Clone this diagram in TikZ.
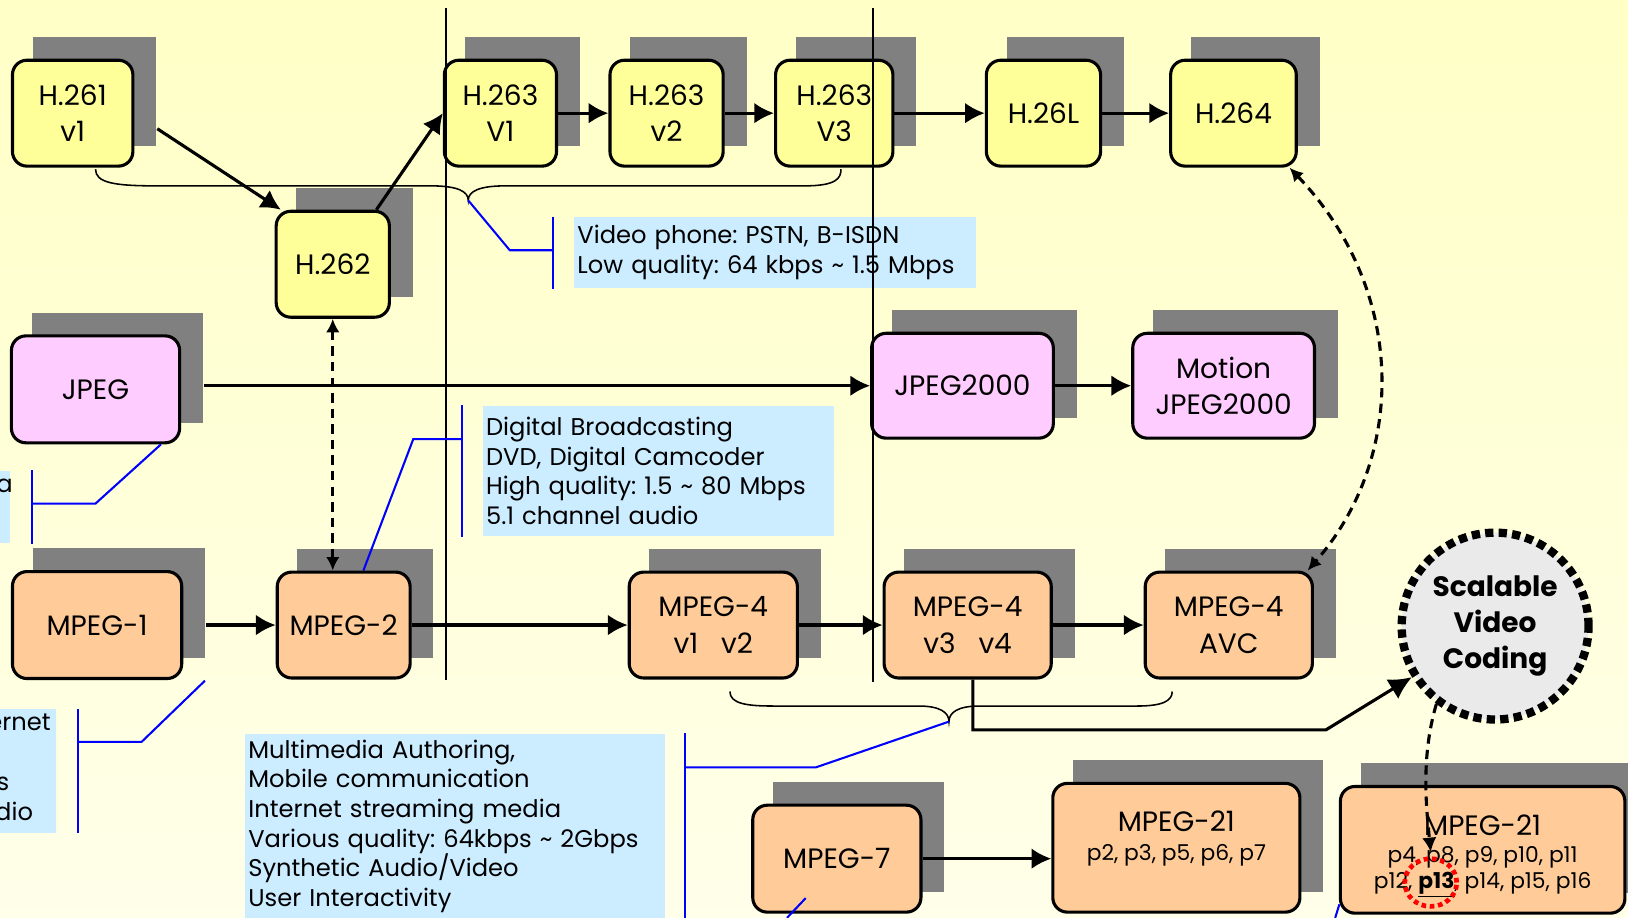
\documentclass[tikz,border=0pt]{standalone}
\usepackage{fontspec}
\setmainfont{Poppins}
\usetikzlibrary{arrows.meta,calc,shapes.geometric}
\definecolor{ylw}{HTML}{FFFF99}
\definecolor{pnk}{HTML}{FFCCFF}
\definecolor{org}{HTML}{FFCC99}
\definecolor{cal}{HTML}{CCECFF}
\definecolor{shd}{HTML}{808080}
\definecolor{svcfill}{HTML}{EAEAEA}
\definecolor{bgtop}{RGB}{255,255,198}
\definecolor{bgbot}{RGB}{255,255,234}
\pgfdeclarelayer{bg}\pgfdeclarelayer{shad}
\pgfsetlayers{bg,shad,main}
\frenchspacing
\begin{document}
\begin{tikzpicture}[x=1pt,y=-1pt,
 box/.style={draw=black, line width=3pt, rounded corners=14pt, align=center, inner sep=0pt, font=\fontsize{27}{35}\selectfont},
 callout/.style={fill=cal, anchor=north west, align=left, inner xsep=3pt, inner ysep=0pt, font=\fontsize{23.3}{28.5}\selectfont},
 arr/.style={line width=3pt, -{Latex[length=19pt,width=20pt]}},
 darr/.style={line width=3pt, dash pattern=on 9pt off 6pt, {Latex[length=13pt,width=13pt]}-{Latex[length=13pt,width=13pt]}},
 sarr/.style={line width=3pt, dash pattern=on 9pt off 6pt, -{Latex[length=14pt,width=14pt]}},
 bline/.style={blue, line width=2pt},
 brace/.style={black, line width=1.5pt},
 sepline/.style={black, line width=2pt},
 frag/.style={anchor=east, inner sep=0pt, text height=16pt, text depth=5pt, font=\fontsize{23.3}{28.5}\selectfont},
 big/.style={inner sep=0pt, font=\fontsize{27}{35}\selectfont},
 small/.style={inner sep=0pt, font=\fontsize{21}{26}\selectfont},
]
\useasboundingbox (0,0) rectangle (1568,884);
\begin{pgfonlayer}{bg}
\shade[top color=bgtop, bottom color=bgbot] (0,0) rectangle (1568,884);
\end{pgfonlayer}

% callouts
\node[callout, minimum width=387pt, minimum height=68pt, text width=381pt] (calA) at (553,209) {Video phone: PSTN, B-ISDN\\Low quality: 64 kbps \textasciitilde{} 1.5 Mbps};
\node[callout, minimum width=338pt, minimum height=125pt, text width=332pt] (calB) at (465,391) {Digital Broadcasting\\DVD, Digital Camcoder\\High quality: 1.5 \textasciitilde{} 80 Mbps\\5.1 channel audio};
\node[callout, minimum width=404pt, minimum height=177pt, text width=398pt] (calE) at (236,707) {Multimedia Authoring,\\Mobile communication\\Internet streaming media\\Various quality: 64kbps \textasciitilde{} 2Gbps\\Synthetic Audio/Video\\User Interactivity};
\node[fill=cal, anchor=north east, minimum width=40pt, minimum height=70pt, inner sep=0pt] (calC) at (10,453) {};
\node[frag] (calCa) at (12.5,469) {a};
\node[fill=cal, anchor=north east, minimum width=60pt, minimum height=119pt, inner sep=0pt] (calD) at (54,683) {};
\node[frag] (calD1) at (49,698) {ernet};
\node[frag] (calD3) at (9,756) {s};
\node[frag] (calD4) at (32,785) {dio};

% boxes
\node[box, fill=ylw, minimum width=116pt, minimum height=102pt] (h261) at (70,109) {H.261\\v1};
\node[box, fill=ylw, minimum width=109pt, minimum height=102pt] (h262) at (320.5,254.5) {H.262};
\node[box, fill=ylw, minimum width=108pt, minimum height=102pt] (h263a) at (482,109) {H.263\\V1};
\node[box, fill=ylw, minimum width=109pt, minimum height=102pt] (h263b) at (642,109) {H.263\\v2};
\node[box, fill=ylw, minimum width=113pt, minimum height=102pt] (h263c) at (803.5,109) {H.263\\V3};
\node[box, fill=ylw, minimum width=110pt, minimum height=102pt] (h26l) at (1005,109) {H.26L};
\node[box, fill=ylw, minimum width=121pt, minimum height=102pt] (h264) at (1188,109) {H.264};
\node[box, fill=pnk, minimum width=162pt, minimum height=103pt] (jpeg) at (92,375) {JPEG};
\node[box, fill=pnk, minimum width=175pt, minimum height=101pt] (jp2k) at (927,371.5) {JPEG2000};
\node[box, fill=pnk, minimum width=175pt, minimum height=101pt] (mjp2k) at (1178.5,371.5) {Motion\\JPEG2000};
\node[box, fill=org, minimum width=163pt, minimum height=103pt] (mp1) at (93.5,602) {MPEG-1};
\node[box, fill=org, minimum width=128pt, minimum height=102pt] (mp2) at (331,602) {MPEG-2};
\node[box, fill=org, minimum width=162pt, minimum height=102pt] (mp4a) at (687,602) {MPEG-4\\v1\hspace{22pt}v2};
\node[box, fill=org, minimum width=161pt, minimum height=102pt] (mp4b) at (932,602) {MPEG-4\\v3\hspace{22pt}v4};
\node[box, fill=org, minimum width=161pt, minimum height=102pt] (avc) at (1183.5,602) {MPEG-4\\AVC};
\node[box, fill=org, minimum width=162pt, minimum height=103pt] (mp7) at (806,827) {MPEG-7};
\node[box, fill=org, minimum width=238pt, minimum height=124pt] (mp21a) at (1133,816.5) {};
\node[big] (mp21at) at (1133,791) {MPEG-21};
\node[small] (mp21as) at (1133,824) {p2, p3, p5, p6, p7};
\node[box, fill=org, minimum width=274pt, minimum height=122pt] (mp21b) at (1428,818.5) {};
\node[big] (mp21bt) at (1428,794.5) {MPEG-21};
\node[small] (mp21bs1) at (1428,826) {p4, p8, p9, p10, p11};
\node[small] (mp21bs2) at (1428,852) {p12, \textbf{\underline{p13}}, p14, p15, p16};
\node[ellipse, draw=red, line width=4.5pt, dash pattern=on 4.5pt off 3.5pt, minimum width=50pt, minimum height=46pt, inner sep=0pt] (p13c) at (1378,850) {};
\node[circle, draw=black, line width=8pt, dash pattern=on 8pt off 5pt, fill=svcfill, minimum size=180pt, inner sep=0pt, align=center, font=\fontsize{27}{34.5}\selectfont\bfseries] (svc) at (1440,603) {Scalable\\Video\\Coding};

% shadows
\begin{pgfonlayer}{shad}
\foreach \n in {h261,h262,h263a,h263b,h263c,h26l,h264,jpeg,jp2k,mjp2k,mp1,mp2,mp4a,mp4b,avc,mp7,mp21a,mp21b}
  \fill[shd] ([shift={(21pt,21pt)}]\n.south west) rectangle ([shift={(21pt,21pt)}]\n.north east);
\end{pgfonlayer}

% separators
\coordinate (s1t) at (430,8); \coordinate (s1b) at (430,655);
\coordinate (s2t) at (841,8); \coordinate (s2b) at (841,657);
\draw[sepline] (s1t) -- (s1b);
\draw[sepline] (s2t) -- (s2b);

% braces
\coordinate (tip1) at (451,193);
\coordinate (tip2) at (914,695);
\draw[brace] (92,163) .. controls (92,176) and (110,179) .. (150,179) -- (415,179) .. controls (440,179) and (451,184) .. (tip1) .. controls (451,184) and (462,179) .. (487,179) -- (775,179) .. controls (805,179) and (810,172) .. (810,163);
\draw[brace] (703,666) .. controls (703,678) and (720,680) .. (745,680) -- (885,680) .. controls (905,680) and (914,686) .. (tip2) .. controls (914,686) and (923,680) .. (943,680) -- (1095,680) .. controls (1120,680) and (1129,675) .. (1129,666);

% arrows
\draw[arr] ([xshift=22pt,yshift=-15pt]h261.east) -- ([xshift=6pt]h262.north west);
\draw[arr] ([xshift=42pt]h262.north) -- (h263a.west);
\draw[arr] (h263a.east) -- (h263b.west);
\draw[arr] (h263b.east) -- (h263c.west);
\draw[arr] (h263c.east) -- (h26l.west);
\draw[arr] (h26l.east) -- (h264.west);
\coordinate (js) at ([xshift=22pt]jpeg.east);
\draw[arr] (js |- jp2k.west) -- (jp2k.west);
\draw[arr] (jp2k.east) -- (mjp2k.west);
\draw[arr] ([xshift=22pt]mp1.east) -- (mp2.west);
\draw[arr] (mp2.east) -- (mp4a.west);
\draw[arr] (mp4a.east) -- (mp4b.west);
\draw[arr] (mp4b.east) -- (avc.west);
\draw[arr] (mp7.east) -- (mp7.east -| mp21a.west);
\coordinate (sv1) at ([xshift=5pt]mp4b.south);
\coordinate (bend) at (1277,703);
\draw[line width=3pt, -{Latex[length=22pt,width=22pt]}] (sv1) |- (bend) -- (svc);
\draw[darr] (h262.south) -- (h262.south |- mp2.north);
\draw[darr] ([xshift=-8pt]h264.south east) .. controls (1355,280) and (1355,440) .. ([xshift=-6pt]avc.north east);
\draw[sarr] (svc.233) .. controls (1368,730) and (1374,780) .. ([yshift=4pt]p13c.north);

% blue callout pointers
\draw[bline] (533,209) -- (533,278);
\draw[bline] (533,241) -- (491,241) -- (tip1);
\draw[bline] (444.6,390) -- (444.6,517);
\draw[bline] (444.6,423) -- (398,423) -- ([xshift=19pt]mp2.north);
\draw[bline] (31,453) -- (31,524);
\draw[bline] (31,485) -- (92,485) -- ([xshift=63pt]jpeg.south);
\draw[bline] (75.4,683) -- (75.4,802);
\draw[bline] (75.4,714.5) -- (136.4,714.5) -- (197.4,655.6);
\draw[bline] (660,706) -- (660,884);
\draw[bline] (660,739) -- (786,739) -- (tip2);
\draw[bline] (776,865) -- (758,884);
\draw[bline] (1290,871) -- (1286,884);
\end{tikzpicture}
\end{document}
